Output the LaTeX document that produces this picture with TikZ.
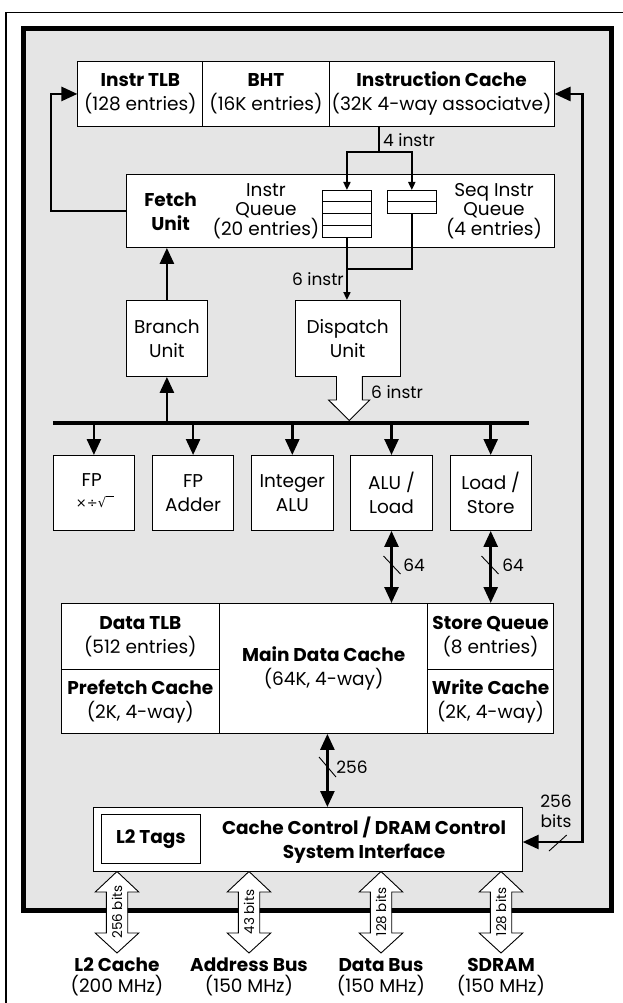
\documentclass[tikz,border=0pt]{standalone}
\usepackage{fontspec}
\setmainfont{Poppins}
\newfontfamily\symfont{DejaVu Sans}
\usetikzlibrary{arrows.meta}
\definecolor{panel}{gray}{0.9}
\newcommand\fs{\fontsize{18.5}{24}\selectfont}
\newcommand\fsq{\fontsize{18.5}{18.5}\selectfont}
\newcommand\fsl{\fontsize{17}{20}\selectfont}
\newcommand\fsb{\fontsize{18.5}{20.5}\selectfont}
\newcommand\fsm{\fontsize{13.5}{14}\selectfont}
\begin{document}
\begin{tikzpicture}[x=1pt,y=-1pt,
  box/.style={draw, line width=0.9pt, fill=white, inner sep=0pt, align=center, font=\fs, anchor=north west},
  lbl/.style={inner sep=0pt, align=center, font=\fsl},
  wire/.style={line width=1.8pt},
  bar/.style={line width=2.6pt},
  smalltip/.style={-{Triangle[length=8pt,width=7pt]}},
  bigtip/.style={-{Triangle[length=16pt,width=14pt]}},
  dbltip/.style={{Triangle[length=16pt,width=14pt]}-{Triangle[length=16pt,width=14pt]}},
  slash/.style={line width=0.9pt},
  hollow/.style={draw, line width=0.9pt, fill=white}
]
\useasboundingbox (0,0) rectangle (623,1003);
% frames
\draw[line width=1.5pt] (623,12.5) -- (6,12.5) -- (6,1003);
\draw[line width=5pt, fill=panel] (23.5,29) rectangle (611.3,910.5);

% top cache row
\node[box, minimum width=125pt, minimum height=65pt] (itlb) at (77.4,61) {\textbf{Instr TLB}\\(128 entries)};
\node[box, minimum width=126.2pt, minimum height=65pt] (bht) at (202.4,61) {\textbf{BHT}\\(16K entries)};
\node[box, minimum width=225pt, minimum height=65pt] (icache) at (328.6,61) {\textbf{Instruction Cache}\\(32K 4-way associatve)};

% fetch unit
\node[box, minimum width=427.4pt, minimum height=73pt] (fetch) at (126.2,174) {};
\node[lbl, font=\fs] (fetchlbl) at (170.6,211.5) {\textbf{Fetch}\\\textbf{Unit}};
\node[lbl, font=\fsq] (iqlbl) at (266,211.5) {Instr\\Queue\\(20 entries)};
\node[lbl, font=\fsq] (sqlbl) at (494,211.5) {Seq Instr\\Queue\\(4 entries)};
\node[box, minimum width=49pt, minimum height=47pt] (iq) at (322,190) {};
\foreach \yy in {201.75,213.5,225.25} \draw[line width=0.9pt] (322,\yy) -- (371,\yy);
\node[box, minimum width=48.7pt, minimum height=23pt] (sq) at (387,190) {};
\draw[line width=0.9pt] (387,201.5) -- (435.7,201.5);

% 4 instr
\coordinate (j4) at (379,152);
\draw[wire] (j4 |- icache.south) -- (j4);
\draw[wire, smalltip] (j4) -| (iq.north);
\draw[wire, smalltip] (j4) -| (sq.north);
\node[lbl, anchor=west] (l4) at (383,140) {4 instr};

% left loop
\draw[bar, bigtip] (fetch.west) -- ++(-75.4,0) |- (itlb.west);

% branch / dispatch
\node[box, minimum width=81.3pt, minimum height=76pt] (branch) at (125.8,300) {Branch\\Unit};
\node[box, minimum width=104.8pt, minimum height=76pt] (dispatch) at (294.8,300) {Dispatch\\Unit};
\coordinate (j6) at (346.5,269);
\draw[wire, smalltip] (iq.south) -- (iq.south |- dispatch.north);
\draw[wire] (sq.south) |- (j6);
\node[lbl, anchor=east] (l6a) at (344,279) {6 instr};
\draw[bar, bigtip] (branch.north) -- (branch.north |- fetch.south);

% bus
\coordinate (busL) at (52.8,423);
\coordinate (busR) at (529,423);
\draw[line width=4.5pt] (busL) -- (busR);
\draw[bar, bigtip] (branch.south |- busL) -- (branch.south);
\draw[hollow] (336.5,376) -- (336.5,400) -- (328.6,400) -- (349.2,420.5) -- (369.8,400) -- (362.3,400) -- (362.3,376);
\node[lbl, anchor=west] (l6b) at (371,392) {6 instr};

% functional units
\node[box, minimum width=81.3pt, minimum height=75pt] (fu1) at (52.8,455) {};
\node[lbl, font=\fs] (fu1a) at (91.7,480) {FP};
\node[lbl] (fu1b) at (95,502) {{\symfont\fontsize{13}{13}\selectfont ×÷√}\rule[10pt]{8pt}{0.9pt}};
\node[box, minimum width=81.3pt, minimum height=75pt] (fu2) at (152,455) {FP\\Adder};
\node[box, minimum width=81.3pt, minimum height=75pt] (fu3) at (251.2,455) {Integer\\ALU};
\node[box, minimum width=81.3pt, minimum height=75pt] (fu4) at (350.4,455) {ALU /\\Load};
\node[box, minimum width=81.3pt, minimum height=75pt] (fu5) at (449.6,455) {Load /\\Store};
\foreach \n in {fu1,fu2,fu3,fu4,fu5} \draw[bar, bigtip] (\n.north |- busL) -- (\n.north);

% data cache
\node[box, minimum width=158.3pt, minimum height=66pt] (dtlb) at (60.7,603) {\textbf{Data TLB}\\(512 entries)};
\node[box, minimum width=158.3pt, minimum height=64pt] (pcache) at (60.7,669) {\textbf{Prefetch Cache}\\(2K, 4-way)};
\node[box, minimum width=208.4pt, minimum height=130pt] (mdc) at (219,603) {\textbf{Main Data Cache}\\(64K, 4-way)};
\node[box, minimum width=125.4pt, minimum height=66pt] (stq) at (427.4,603) {\textbf{Store Queue}\\(8 entries)};
\node[box, minimum width=125.4pt, minimum height=64pt] (wc) at (427.4,669) {\textbf{Write Cache}\\(2K, 4-way)};

\draw[bar, dbltip] (fu4.south) -- (fu4.south |- mdc.north);
\draw[bar, dbltip] (fu5.south) -- (fu5.south |- stq.north);
\draw[slash] (383.5,556) -- (400.5,574);
\draw[slash] (481.5,556) -- (498.5,574);
\node[lbl] (l64a) at (414,565) {64};
\node[lbl] (l64b) at (513,565) {64};

% cache control
\node[box, minimum width=428.5pt, minimum height=64pt] (ccu) at (93.3,807) {};
\node[box, minimum width=98.4pt, minimum height=49pt] (l2t) at (101.2,814) {\textbf{L2 Tags}};
\node[lbl, font=\fs] (ccul) at (364,840) {\textbf{Cache Control / DRAM Control}\\\textbf{System Interface}};
\coordinate (a256) at (327.4,770);
\draw[bar, dbltip] (a256 |- mdc.south) -- (a256 |- ccu.north);
\draw[slash] (319,757) -- (336,777);
\node[lbl] (l256) at (352,767) {256};

% right loop
\draw[bar, dbltip] (icache.east) -- ++(27.7,0) coordinate (rc) |- (ccu.east |- 0,842);
\draw[slash] (549,851) -- (566.7,835);
\node[lbl] (lbits) at (556,811.5) {256\\bits};

% external buses
\foreach \c/\w/\nm/\sp/\t in {117/256 bits/L2 Cache/200 MHz/ea, 249/43 bits/Address Bus/150 MHz/eb, 381/128 bits/Data Bus/150 MHz/ec, 501/128 bits/SDRAM/150 MHz/ed}{
  \draw[hollow] (\c,871.5) -- (\c+21.8,892) -- (\c+10.7,892) -- (\c+10.7,933) -- (\c+21.8,933) -- (\c,953) -- (\c-21.8,933) -- (\c-10.7,933) -- (\c-10.7,892) -- (\c-21.8,892) -- cycle;
  \node[lbl, rotate=90, font=\fsm] (\t w) at (\c,912) {\w};
  \node[lbl, font=\fsb] (\t n) at (\c,977) {\textbf{\nm}\\(\sp)};
}
\end{tikzpicture}
\end{document}
